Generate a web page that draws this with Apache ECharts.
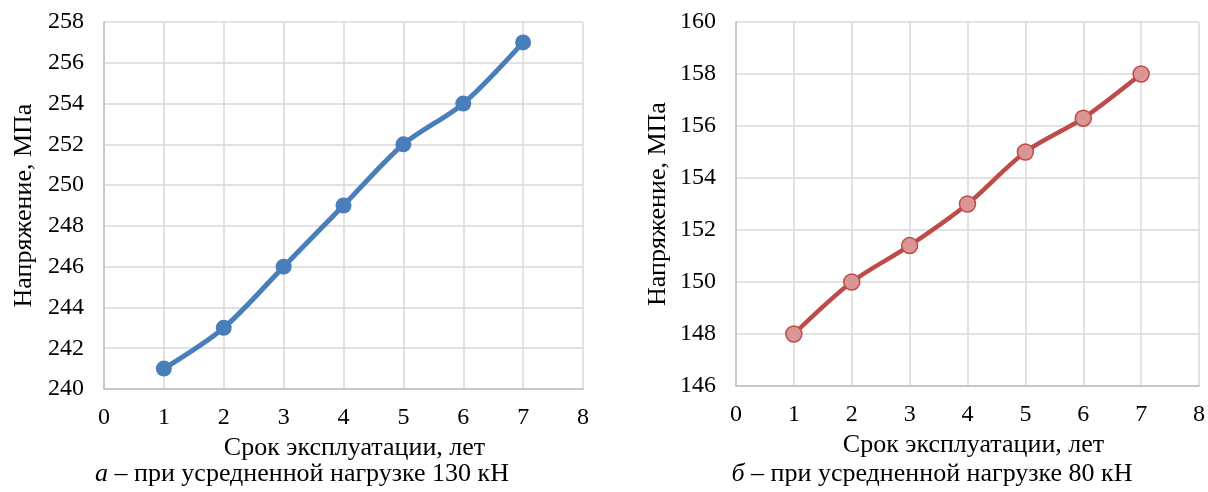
<!DOCTYPE html>
<html>
<head>
<meta charset="utf-8">
<script src="https://cdn.jsdelivr.net/npm/echarts@6/dist/echarts.min.js"></script>
<style>
  html, body { margin: 0; padding: 0; background: #fff; }
  #main { width: 1208px; height: 492px; }
</style>
</head>
<body>
<div id="main"></div>
<script>
// срок эксплуатации, лет
var years = [1, 2, 3, 4, 5, 6, 7];
// напряжение при 130 кН, МПа
var stress130 = [241, 243, 246, 249, 252, 254, 257];
// напряжение при 80 кН, МПа
var stress80 = [148, 150, 151.4, 153, 155, 156.3, 158];

var xTitle = 'Срок эксплуатации, лет';
var yTitle = 'Напряжение, МПа';
var captionA = ['а', ' – при усредненной нагрузке 130 кН'];
var captionB = ['б', ' – при усредненной нагрузке 80 кН'];

var font = '"Liberation Serif", "Times New Roman", serif';

function pairs(xs, ys) {
  return xs.map(function (x, i) { return [x, ys[i]]; });
}

function xAxis(idx, shift) {
  return {
    gridIndex: idx, type: 'value', min: 0, max: 8, interval: 1,
    name: xTitle, nameLocation: 'middle', nameGap: 46,
    nameTextStyle: { fontFamily: font, fontSize: 26, color: '#000', padding: [0, 0, 0, shift] },
    axisLine: { lineStyle: { color: '#bfbfbf', width: 1.5 } },
    axisTick: { show: false },
    axisLabel: { fontFamily: font, fontSize: 24, color: '#000', margin: 17 },
    splitLine: { lineStyle: { color: '#d9d9d9', width: 1.5 } }
  };
}

function yAxis(idx, min, max, gap) {
  return {
    gridIndex: idx, type: 'value', min: min, max: max, interval: 2,
    name: yTitle, nameLocation: 'middle', nameGap: gap,
    nameTextStyle: { fontFamily: font, fontSize: 26, color: '#000' },
    axisLine: { show: true, lineStyle: { color: '#bfbfbf', width: 1.5 } },
    axisTick: { show: false },
    axisLabel: { fontFamily: font, fontSize: 24, color: '#000', margin: 20 },
    splitLine: { lineStyle: { color: '#d9d9d9', width: 1.5 } }
  };
}

function caption(parts, cx) {
  return {
    text: '{i|' + parts[0] + '}{n|' + parts[1] + '}',
    left: cx, top: 459, textAlign: 'center', padding: 0,
    textStyle: {
      rich: {
        i: { fontFamily: font, fontSize: 26, lineHeight: 30, fontStyle: 'italic', fontWeight: 'normal', color: '#000' },
        n: { fontFamily: font, fontSize: 26, lineHeight: 30, fontWeight: 'normal', color: '#000' }
      }
    }
  };
}

var chart = echarts.init(document.getElementById('main'));
chart.setOption({
  animation: false,
  title: [caption(captionA, 302), caption(captionB, 932)],
  grid: [
    { left: 104, top: 22, width: 479, height: 367 },
    { left: 736, top: 22, width: 465, height: 364 }
  ],
  xAxis: [xAxis(0, 22), xAxis(1, 12)],
  yAxis: [yAxis(0, 240, 258, 67), yAxis(1, 146, 160, 65)],
  series: [
    {
      type: 'line', xAxisIndex: 0, yAxisIndex: 0,
      data: pairs(years, stress130), smooth: 0.3,
      symbol: 'circle', symbolSize: 16,
      lineStyle: { color: '#4a7ebb', width: 5 },
      itemStyle: { color: '#4a7ebb' }
    },
    {
      type: 'line', xAxisIndex: 1, yAxisIndex: 1,
      data: pairs(years, stress80), smooth: 0.3,
      symbol: 'circle', symbolSize: 16,
      lineStyle: { color: '#be4b48', width: 4.5 },
      itemStyle: { color: '#d99694', borderColor: '#be4b48', borderWidth: 1.5 }
    }
  ]
});
</script>
</body>
</html>
